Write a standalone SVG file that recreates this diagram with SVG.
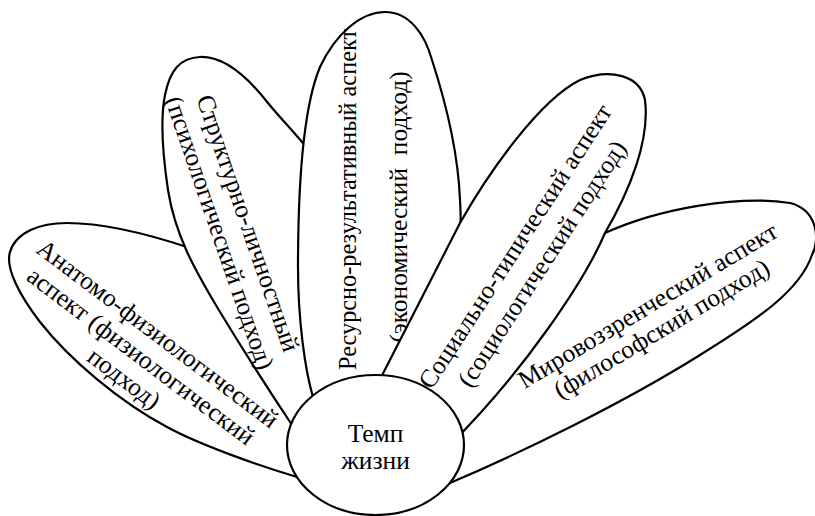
<svg xmlns="http://www.w3.org/2000/svg" width="815" height="516" viewBox="0 0 815 516">
<style>
.petal{fill:#fff;stroke:#000;stroke-width:2.2;stroke-linejoin:round}
text{font-family:'Liberation Serif','DejaVu Serif','Noto Serif',serif;font-size:25.5px;fill:#000;text-anchor:middle}
</style>
<rect width="815" height="516" fill="#fff"/>
<g id="anatomo">
<path class="petal" d="M 340,488 C 320,484 310,481 297,477 C 260,466 200,445 167,427 C 120,402 70,360 40,322 C 20,296 5,268 10,252 C 16,232 40,223 67,223 C 110,223 160,238 190,248 C 250,268 300,320 340,420 Z"/>
<text font-family="Liberation Serif, serif" transform="translate(141,356) rotate(37)"><tspan x="0" y="-19.5">Анатомо-физиологический</tspan><tspan x="0" y="8.5">аспект (физиологический</tspan><tspan x="0" y="36.5">подход)</tspan></text>
</g>
<g id="structure">
<path class="petal" d="M 322,455 C 305,443 297,433 292,425 C 270,392 240,345 217,307 C 195,270 175,235 168,190 C 162,150 160,120 165,95 C 170,70 180,58 200,57 C 225,56 250,80 268,103 C 280,118 300,138 315,158 C 335,220 338,320 335,430 Z"/>
<text font-family="Liberation Serif, serif" transform="translate(234,228) rotate(71)"><tspan x="0" y="-6.5">Структурно-личностный</tspan><tspan x="0" y="23.5">(психологический подход)</tspan></text>
</g>
<g id="resource">
<path class="petal" d="M 335,422 C 325,412 318,405 313,397 C 305,370 298,320 298,267 C 298,200 302,110 320,67 C 335,35 360,12 385,12 C 410,12 425,35 432,60 C 445,100 458,150 460,200 C 461,215 461,230 459,245 C 455,300 440,360 400,420 Z"/>
<text font-family="Liberation Serif, serif" transform="translate(373,203.5) rotate(-90)" xml:space="preserve" style="white-space:pre"><tspan x="4" y="-17" font-size="24.3">Ресурсно-результативный аспект</tspan><tspan x="-3.5" y="34">(экономический  подход)</tspan></text>
</g>
<g id="worldview">
<path class="petal" d="M 427,492 L 450,483 C 520,453 620,405 700,355 C 760,318 800,290 812,255 C 820,240 818,210 790,203 C 740,195 660,208 605,233 C 585,243 560,280 530,330 L 450,425 Z"/>
<text font-family="Liberation Serif, serif" transform="translate(654.5,317) rotate(-31)"><tspan x="0" y="-5">Мировоззренческий аспект</tspan><tspan x="0" y="22">(философский подход)</tspan></text>
</g>
<g id="social">
<path class="petal" d="M 372,395 C 390,360 420,300 460,223 C 490,170 540,100 580,80 C 610,68 640,75 645,100 C 650,140 630,190 605,233 C 585,280 525,370 450,445 Z"/>
<text font-family="Liberation Serif, serif" transform="translate(528.5,255) rotate(-57)"><tspan x="0" y="-7.5">Социально-типический аспект</tspan><tspan x="0" y="24.5">(социологический подход)</tspan></text>
</g>
<g id="center">
<ellipse class="petal" cx="375.5" cy="445" rx="88.5" ry="70"/>
<text font-family="Liberation Serif, serif" x="375.5" y="442">Темп</text>
<text font-family="Liberation Serif, serif" x="375.5" y="469">жизни</text>
</g>
</svg>
